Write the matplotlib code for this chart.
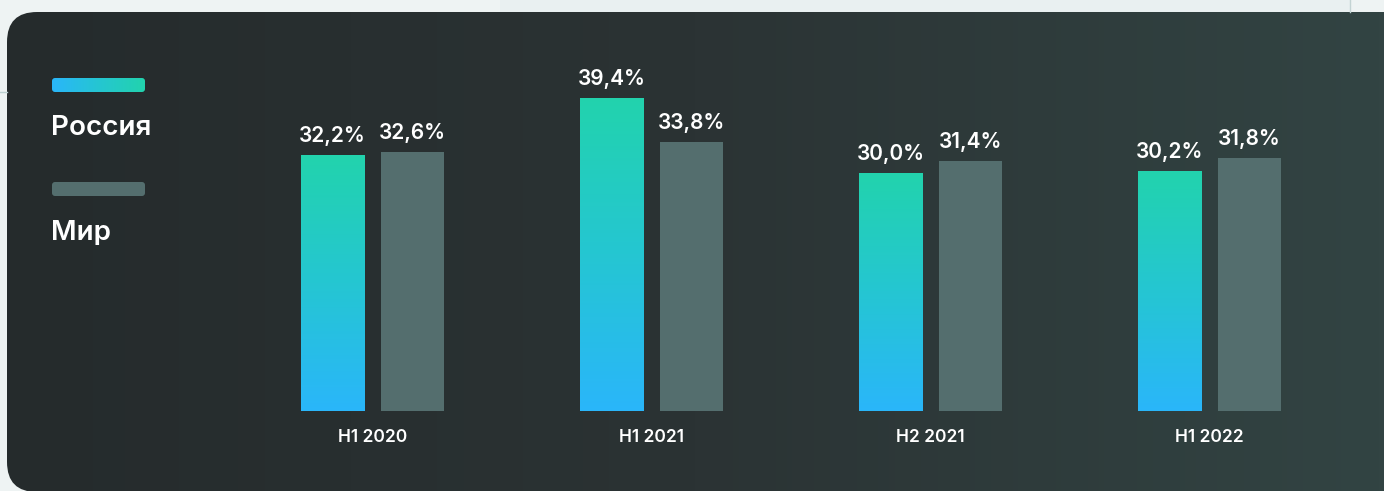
import matplotlib
matplotlib.use("Agg")
import matplotlib.pyplot as plt
import numpy as np
from matplotlib.colors import LinearSegmentedColormap
from matplotlib.patches import FancyBboxPatch, Rectangle

plt.rcParams['font.family'] = ['Inter', 'DejaVu Sans']

# данные
periods = ['H1 2020', 'H1 2021', 'H2 2021', 'H1 2022']
russia = [32.2, 39.4, 30.0, 30.2]
world = [32.6, 33.8, 31.4, 31.8]
series_names = ['Россия', 'Мир']

W, H = 1384, 491
fig = plt.figure(figsize=(W / 100, H / 100), dpi=100)
fig.patch.set_facecolor('#eef3f3')

# фон-карточка (координаты в пикселях)
bg = fig.add_axes([0, 0, 1, 1])
bg.set_xlim(0, W)
bg.set_ylim(0, H)
bg.axis('off')
bg.add_patch(Rectangle((500, H - 12), 850, 12, color='#e9f0f1', lw=0))
bg.plot([1350, 1350], [H - 12, H], color='#c3d3d3', lw=1)
bg.plot([0, 7], [H - 92, H - 92], color='#bcd0d0', lw=1)

card = FancyBboxPatch((7, -1), W + 40, H - 12 + 1,
                      boxstyle='round,pad=0,rounding_size=30',
                      fc='none', ec='none')
bg.add_patch(card)
card_cmap = LinearSegmentedColormap.from_list('card', ['#252b2c', '#2b3334', '#324443'])
grad = np.linspace(0, 1, 256).reshape(1, -1)
im = bg.imshow(grad, extent=[7, W, -1, H - 12], aspect='auto', cmap=card_cmap, zorder=1)
im.set_clip_path(card)
bg.set_xlim(0, W)
bg.set_ylim(0, H)

# легенда
ru_cmap = LinearSegmentedColormap.from_list('ru', ['#2ab6fa', '#25c6d2', '#22d3ad'])
sw1 = FancyBboxPatch((52, H - 92), 93, 14, boxstyle='round,pad=0,rounding_size=3',
                     fc='none', ec='none', zorder=2)
bg.add_patch(sw1)
im2 = bg.imshow(grad, extent=[52, 145, H - 92, H - 78], aspect='auto', cmap=ru_cmap, zorder=3)
im2.set_clip_path(sw1)
bg.add_patch(FancyBboxPatch((52, H - 196), 93, 14, boxstyle='round,pad=0,rounding_size=3',
                            fc='#546e6e', ec='none', zorder=3))
bg.text(51, H - 135, series_names[0], color='white', fontsize=20, fontweight='semibold',
        va='baseline', ha='left', zorder=4)
bg.text(51, H - 240, series_names[1], color='white', fontsize=20, fontweight='semibold',
        va='baseline', ha='left', zorder=4)
bg.set_xlim(0, W)
bg.set_ylim(0, H)

# основной график
ax = fig.add_axes([233 / W, 80 / H, 1116 / W, 318 / H])
ax.patch.set_alpha(0)
x = np.arange(len(periods))
off = 40 / 279
bw = 64 / 279

bars_ru = ax.bar(x - off, russia, width=bw, color='none', zorder=2)
ax.bar(x + off, world, width=63 / 279, color='#546e6e', zorder=2)

vgrad = np.linspace(0, 1, 256).reshape(-1, 1)
for b in bars_ru:
    x0 = b.get_x()
    h = b.get_height()
    img = ax.imshow(vgrad, extent=[x0, x0 + bw, 0, h], origin='lower', aspect='auto',
                    cmap=ru_cmap, zorder=3)
    img.set_clip_path(b)

for xi, v in zip(x - off, russia):
    ax.annotate(f'{v:.1f}%'.replace('.', ','), (xi, v), xytext=(0, 9),
                textcoords='offset pixels', ha='center', va='bottom',
                color='white', fontsize=15, fontweight='semibold')
for xi, v in zip(x + off, world):
    ax.annotate(f'{v:.1f}%'.replace('.', ','), (xi, v), xytext=(0, 9),
                textcoords='offset pixels', ha='center', va='bottom',
                color='white', fontsize=15, fontweight='semibold')

ax.set_xlim(-0.5, 3.5)
ax.set_ylim(0, 40)
ax.set_xticks(x, periods)
ax.tick_params(axis='x', length=0, pad=13, labelsize=12.5, labelcolor='white')
for lbl in ax.get_xticklabels():
    lbl.set_fontweight('semibold')
ax.set_yticks([])
for s in ax.spines.values():
    s.set_visible(False)

fig.savefig('out.png', dpi=100, facecolor=fig.get_facecolor())
